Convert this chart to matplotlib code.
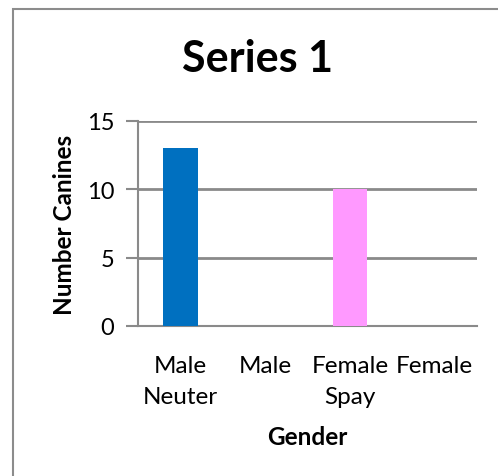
import numpy as np
import matplotlib.pyplot as plt
from matplotlib.patches import Rectangle

categories = ['Male\nNeuter', 'Male', 'Female\nSpay', 'Female']
counts = [13, 0, 10, 0]
bar_colors = ['#0070C0', '#0070C0', '#FF99FF', '#FF99FF']
y_ticks = [0, 5, 10, 15]

plt.rcParams['font.family'] = ['Lato', 'DejaVu Sans']

W, H = 498, 477
fig = plt.figure(figsize=(W / 100, H / 100), dpi=100)

# outer chart frame (cut off at right and bottom)
fig.patches.append(Rectangle((12.5 / W, -0.1), 1.2, 1.1 - 10 / H, transform=fig.transFigure,
                             fill=False, edgecolor='#8c8c8c', lw=1.5))

ax = fig.add_axes([138 / W, 1 - 327 / H, (477 - 138) / W, (327 - 122) / H])

x = np.arange(len(categories))
ax.bar(x, counts, width=0.41, color=bar_colors, zorder=3)

ax.set_xlim(-0.5, len(categories) - 0.5)
ax.set_ylim(0, 15)
ax.set_yticks(y_ticks)
ax.yaxis.grid(True, color='#8a8a8a', lw=2, zorder=0)
ax.set_xticks(x)
ax.set_xticklabels(categories, fontsize=17.5, linespacing=1.55)
ax.tick_params(axis='x', length=0, pad=21)
ax.tick_params(axis='y', length=9, width=1.5, color='#8a8a8a', labelsize=17, pad=8)

for s in ['top', 'right']:
    ax.spines[s].set_visible(False)
for s in ['left', 'bottom']:
    ax.spines[s].set_color('#8a8a8a')
    ax.spines[s].set_linewidth(1.5)

ax.set_xlabel('Gender', fontsize=17.5, fontweight='bold', labelpad=13)
ax.set_ylabel('Number Canines', fontsize=17.5, fontweight='bold', labelpad=8)

fig.text(258 / W, 1 - 59 / H, 'Series 1', ha='center', va='center', fontsize=31, fontweight='bold')

fig.savefig('out.png', dpi=100)
